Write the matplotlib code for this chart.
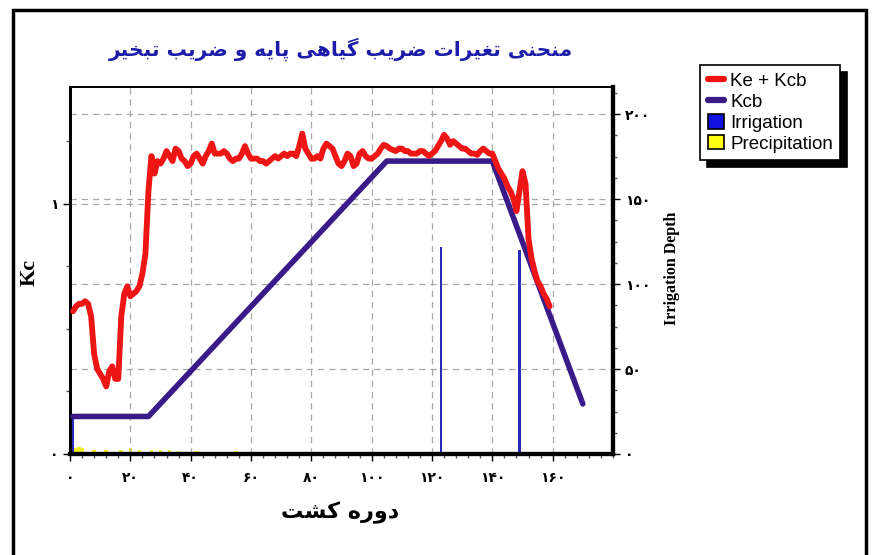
import matplotlib
matplotlib.use("Agg")
import matplotlib.pyplot as plt
from matplotlib.ticker import MultipleLocator, FixedLocator, FuncFormatter
from matplotlib.lines import Line2D
from matplotlib.patches import Patch, Rectangle

# ---------------- data ----------------
ke_kcb_days = list(range(1, 160))
ke_kcb = [0.57, 0.59, 0.60, 0.60, 0.61, 0.60, 0.55, 0.40, 0.34, 0.32,
          0.30, 0.27, 0.33, 0.35, 0.30, 0.30, 0.55, 0.64, 0.67, 0.63,
          0.64, 0.65, 0.67, 0.72, 0.80, 1.05, 1.19, 1.12, 1.17, 1.16,
          1.18, 1.21, 1.19, 1.17, 1.22, 1.21, 1.18, 1.17, 1.15, 1.16,
          1.19, 1.20, 1.18, 1.16, 1.19, 1.21, 1.24, 1.20, 1.20, 1.20,
          1.21, 1.20, 1.18, 1.17, 1.18, 1.18, 1.20, 1.23, 1.20, 1.18,
          1.18, 1.18, 1.17, 1.17, 1.16, 1.17, 1.18, 1.19, 1.18, 1.19,
          1.20, 1.19, 1.20, 1.20, 1.19, 1.23, 1.28, 1.22, 1.20, 1.18,
          1.18, 1.19, 1.18, 1.22, 1.24, 1.23, 1.22, 1.19, 1.16, 1.15,
          1.17, 1.20, 1.19, 1.15, 1.16, 1.20, 1.21, 1.19, 1.18, 1.18,
          1.19, 1.20, 1.22, 1.235, 1.23, 1.22, 1.215, 1.21, 1.22, 1.22,
          1.21, 1.21, 1.20, 1.20, 1.20, 1.21, 1.21, 1.20, 1.19, 1.20,
          1.21, 1.23, 1.25, 1.275, 1.26, 1.235, 1.25, 1.24, 1.23, 1.22,
          1.22, 1.21, 1.20, 1.20, 1.195, 1.21, 1.22, 1.21, 1.20, 1.20,
          1.17, 1.14, 1.12, 1.10, 1.07, 1.05, 1.02, 0.97, 1.05, 1.13,
          1.08, 0.86, 0.78, 0.73, 0.69, 0.67, 0.64, 0.62, 0.59]

kcb_days = [1, 26, 105, 140, 170]
kcb = [0.15, 0.15, 1.17, 1.17, 0.20]

irrigation_days = [1, 123, 149]
irrigation_depth = [22, 122, 120]

precip_days = [2, 3, 4, 8, 12, 17, 20, 23, 27, 30, 33, 36, 42, 55]
precip_depth = [3.5, 4, 3.5, 2.5, 2.5, 2.5, 3.5, 2.5, 2.5, 2.5, 2.5, 2, 2, 1.5]

x_ticks = [0, 20, 40, 60, 80, 100, 120, 140, 160]
kc_ticks = [0, 1]
depth_ticks = [0, 50, 100, 150, 200]

title_text = "منحنی تغیرات ضریب گیاهی پایه و ضریب تبخیر"
xlabel_text = "دوره کشت"

# ---------------- Persian shaping helpers ----------------
FORMS = {
    'ا': ('\uFE8D', '\uFE8E', None, None),
    'ب': ('\uFE8F', '\uFE90', '\uFE91', '\uFE92'),
    'پ': ('\uFB56', '\uFB57', '\uFB58', '\uFB59'),
    'ت': ('\uFE95', '\uFE96', '\uFE97', '\uFE98'),
    'ح': ('\uFEA1', '\uFEA2', '\uFEA3', '\uFEA4'),
    'خ': ('\uFEA5', '\uFEA6', '\uFEA7', '\uFEA8'),
    'د': ('\uFEA9', '\uFEAA', None, None),
    'ر': ('\uFEAD', '\uFEAE', None, None),
    'ز': ('\uFEAF', '\uFEB0', None, None),
    'س': ('\uFEB1', '\uFEB2', '\uFEB3', '\uFEB4'),
    'ش': ('\uFEB5', '\uFEB6', '\uFEB7', '\uFEB8'),
    'ض': ('\uFEBD', '\uFEBE', '\uFEBF', '\uFEC0'),
    'غ': ('\uFECD', '\uFECE', '\uFECF', '\uFED0'),
    'ک': ('\uFB8E', '\uFB8F', '\uFB90', '\uFB91'),
    'گ': ('\uFB92', '\uFB93', '\uFB94', '\uFB95'),
    'ل': ('\uFEDD', '\uFEDE', '\uFEDF', '\uFEE0'),
    'م': ('\uFEE1', '\uFEE2', '\uFEE3', '\uFEE4'),
    'ن': ('\uFEE5', '\uFEE6', '\uFEE7', '\uFEE8'),
    'ه': ('\uFEE9', '\uFEEA', '\uFEEB', '\uFEEC'),
    'و': ('\uFEED', '\uFEEE', None, None),
    'ی': ('\uFBFC', '\uFBFD', '\uFBFE', '\uFBFF'),
}


def shape(text):
    out = []
    n = len(text)
    for i, ch in enumerate(text):
        if ch not in FORMS:
            out.append(ch)
            continue
        iso, fin, ini, med = FORMS[ch]
        prev = text[i - 1] if i > 0 else None
        nxt = text[i + 1] if i < n - 1 else None
        jp = prev in FORMS and FORMS[prev][2] is not None
        jn = ini is not None and nxt in FORMS
        if jp and jn:
            out.append(med)
        elif jp:
            out.append(fin)
        elif jn:
            out.append(ini)
        else:
            out.append(iso)
    return ''.join(out)[::-1]


PDIG = str.maketrans('0123456789', '۰۱۲۳۴۵۶۷۸۹')


def pnum(v, pos=None):
    return str(int(round(v))).translate(PDIG)


# ---------------- figure ----------------
fig = plt.figure(figsize=(8.77, 5.55), dpi=100)
ax = fig.add_axes([70 / 877, 1 - 454 / 555, (613 - 70) / 877, (454 - 87) / 555])
ax2 = ax.twinx()
ax.set_zorder(ax2.get_zorder() + 1)
ax.patch.set_visible(False)

grid_kw = dict(color='#a8a8a8', linestyle=(0, (5, 4)), linewidth=0.9)

# Irrigation / precipitation bars on the depth axis
ax2.bar(irrigation_days, irrigation_depth, width=0.75, color='#2a2ab4', linewidth=0)
ax2.bar(precip_days, precip_depth, width=1.2, color='#f2ee2a', linewidth=0)
ax2.set_ylim(0, 216)
ax2.set_yticks(depth_ticks)
ax2.yaxis.set_minor_locator(MultipleLocator(12.5))
ax2.yaxis.set_major_formatter(FuncFormatter(pnum))
ax2.grid(True, axis='y', **grid_kw)

# Kc lines
ax.plot(kcb_days, kcb, color='#3a1a88', linewidth=4.0, solid_capstyle='round', zorder=3)
ax.plot(ke_kcb_days, ke_kcb, color='#ee1515', linewidth=4.2, solid_capstyle='round',
        solid_joinstyle='round', zorder=4)
ax.set_xlim(0, 180)
ax.set_ylim(0, 1.466)
ax.set_xticks(x_ticks)
ax.xaxis.set_minor_locator(MultipleLocator(4))
ax.xaxis.set_major_formatter(FuncFormatter(pnum))
ax.yaxis.set_major_locator(FixedLocator(kc_ticks))
ax.yaxis.set_minor_locator(FixedLocator([0.25, 0.5, 0.75, 1.25]))
ax.yaxis.set_major_formatter(FuncFormatter(pnum))
ax.grid(True, axis='x', **grid_kw)
ax.grid(True, axis='y', **grid_kw)

# spines and ticks
for a in (ax, ax2):
    a.spines['top'].set_linewidth(1.2)
    a.spines['left'].set_linewidth(2.0)
    a.spines['bottom'].set_linewidth(3.0)
    a.spines['right'].set_linewidth(3.0)
ax.tick_params(axis='both', which='major', direction='out', length=5, width=1,
               labelsize=10, colors='black')
ax.tick_params(axis='both', which='minor', direction='out', length=3, width=1,
               colors='#555555')
ax.tick_params(axis='x', pad=7)
ax2.tick_params(axis='y', which='major', direction='out', length=5, width=1,
                labelsize=10)
ax2.tick_params(axis='y', which='minor', direction='out', length=3, width=1,
                colors='#555555')
for lbl in ax.get_xticklabels() + ax.get_yticklabels() + ax2.get_yticklabels():
    lbl.set_fontweight('bold')
    lbl.set_family(['DejaVu Sans'])

# texts
fig.text(341 / 877, 1 - 49 / 555, shape(title_text), ha='center', va='center',
         fontsize=14.5, fontweight='bold', color='#1c1ca8', family=['DejaVu Sans'])
fig.text(340 / 877, 1 - 513 / 555, shape(xlabel_text), ha='center', va='center',
         fontsize=16, fontweight='bold', color='black', family=['DejaVu Sans'])
fig.text(30 / 877, 1 - 272 / 555, 'Kc', rotation=90, ha='center', va='center',
         fontsize=16, fontweight='bold', family=['Liberation Serif'])
fig.text(672 / 877, 1 - 268 / 555, 'Irrigation Depth', rotation=90, ha='center',
         va='center', fontsize=11.5, fontweight='bold', family=['Liberation Serif'])

# legend
handles = [
    Line2D([], [], color='#ee1515', linewidth=4.5, solid_capstyle='round'),
    Line2D([], [], color='#3a1a88', linewidth=4.5, solid_capstyle='round'),
    Patch(facecolor='#1010e0', edgecolor='black', linewidth=1.2),
    Patch(facecolor='#ffff10', edgecolor='black', linewidth=1.2),
]
labels = ['Ke + Kcb', 'Kcb', 'Irrigation', 'Precipitation']
leg = fig.legend(handles, labels, loc='upper left', bbox_to_anchor=(700 / 877, 1 - 65 / 555),
                 frameon=True, fancybox=False,
                 shadow={'color': 'black', 'alpha': 1.0, 'ox': 5, 'oy': -5},
                 prop={'family': 'Liberation Sans', 'size': 13.5}, handlelength=0.9,
                 handleheight=0.8, handletextpad=0.3, labelspacing=0.17,
                 borderpad=0.4, borderaxespad=0.0)
leg.get_frame().set_edgecolor('black')
leg.get_frame().set_linewidth(1.2)

# outer frame
fig.add_artist(Rectangle((13 / 877, -0.02), (866 - 13) / 877, 1.02 - 10 / 555,
                         transform=fig.transFigure, fill=False, edgecolor='black',
                         linewidth=2.5))

fig.savefig('out.png', dpi=100)
